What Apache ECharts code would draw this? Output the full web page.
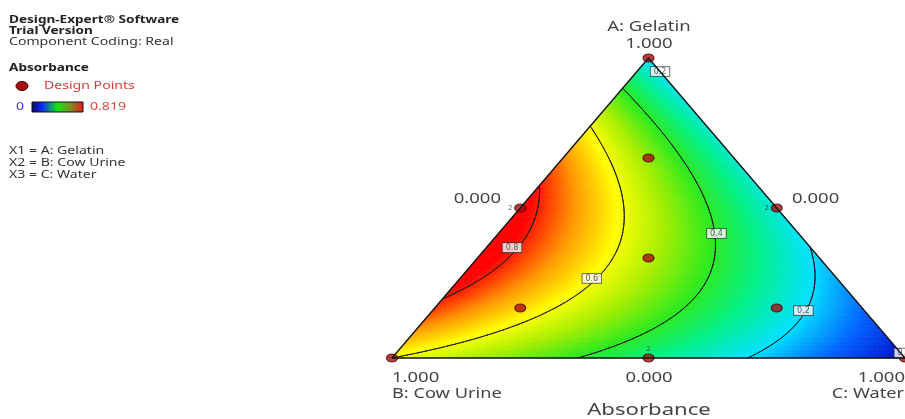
<!DOCTYPE html>
<html>
<head>
<meta charset="utf-8">
<script src="https://cdn.jsdelivr.net/npm/echarts@6/dist/echarts.min.js"></script>
<style>
  html, body { margin: 0; padding: 0; background: #fff; }
  #chart { width: 905px; height: 419px; }
</style>
</head>
<body>
<div id="chart"></div>
<script>
// Fitted Scheffé quadratic mixture model for Absorbance
// components: A = Gelatin, B = Cow Urine, C = Water
const linearCoef = [0.2, 0.6, 0.0];     // A, B, C
const pairCoef = [1.76, 0.54, 0.075];   // AB, AC, BC
const contourLevels = [0.2, 0.4, 0.6, 0.8];
const colorRange = [0, 0.819];

// Design points (mixture proportions) and replicate counts
const designA = [1, 0, 0, 0.5, 0.5, 0, 1 / 3, 2 / 3, 1 / 6, 1 / 6];
const designB = [0, 1, 0, 0.5, 0, 0.5, 1 / 3, 1 / 6, 2 / 3, 1 / 6];
const designC = [0, 0, 1, 0, 0.5, 0.5, 1 / 3, 1 / 6, 1 / 6, 2 / 3];
const designReps = [1, 1, 1, 2, 2, 2, 1, 1, 1, 1];

// Contour label anchors (proportion of A and C on the contour)
const labelText = ['0.8', '0.6', '0.4', '0.2', '0.2', '0'];
const labelA = [0.368, 0.265, 0.415, 0.158, 0.955, 0.0];
const labelC = [0.050, 0.257, 0.425, 0.723, 0.045, 1.0];

// Vertex / edge scale labels
const axisTitles = ['A: Gelatin', 'B: Cow Urine', 'C: Water'];
const scaleHigh = '1.000';
const scaleLow = '0.000';

function absorbance(a, b, c) {
  return linearCoef[0] * a + linearCoef[1] * b + linearCoef[2] * c +
    pairCoef[0] * a * b + pairCoef[1] * a * c + pairCoef[2] * b * c;
}

// ternary (A, B, C) -> plane: B at (0,0), C at (1,0), A at (0.5,1)
function toXY(a, c) { return [c + a / 2, a]; }

function meshTriangles(n) {
  const tris = [];
  const P = (r, k) => { const a = r / n, c = k / n; return [a, Math.max(0, 1 - a - c), c]; };
  for (let r = 0; r < n; r++) {
    for (let k = 0; k < n - r; k++) {
      tris.push([P(r, k), P(r, k + 1), P(r + 1, k)]);
      if (k < n - r - 1) tris.push([P(r, k + 1), P(r + 1, k + 1), P(r + 1, k)]);
    }
  }
  return tris;
}

const clampV = v => Math.min(colorRange[1], Math.max(colorRange[0], v));

// colour field cells
const heatData = meshTriangles(110).map(t => {
  const a = (t[0][0] + t[1][0] + t[2][0]) / 3;
  const b = (t[0][1] + t[1][1] + t[2][1]) / 3;
  const c = (t[0][2] + t[1][2] + t[2][2]) / 3;
  const p = t.map(q => toXY(q[0], q[2]));
  return [p[0][0], p[0][1], p[1][0], p[1][1], p[2][0], p[2][1], clampV(absorbance(a, b, c))];
});

// contour segments by marching triangles
const contourData = [];
meshTriangles(170).forEach(t => {
  const v = t.map(q => absorbance(q[0], q[1], q[2]));
  const xy = t.map(q => toXY(q[0], q[2]));
  contourLevels.forEach(L => {
    const pts = [];
    for (let i = 0; i < 3; i++) {
      const j = (i + 1) % 3;
      const ai = v[i] >= L, aj = v[j] >= L;
      if (ai !== aj) {
        const f = (L - v[i]) / (v[j] - v[i]);
        pts.push([xy[i][0] + f * (xy[j][0] - xy[i][0]), xy[i][1] + f * (xy[j][1] - xy[i][1])]);
      }
    }
    if (pts.length === 2) contourData.push([pts[0][0], pts[0][1], pts[1][0], pts[1][1]]);
  });
});

const designData = designA.map((a, i) => {
  const onBC = a === 0;
  return {
    value: toXY(a, designC[i]),
    label: {
      show: designReps[i] > 1,
      formatter: String(designReps[i]),
      position: onBC ? 'top' : 'left',
      distance: onBC ? 1 : 2
    }
  };
});

const labelData = labelText.map((t, i) => ({ value: toXY(labelA[i], labelC[i]), name: t }));
labelData[5].label = { offset: [-5, -5] };

const FONT = '"Noto Sans", "Open Sans", "DejaVu Sans", sans-serif';
function txt(text, x, y, size, opts) {
  opts = opts || {};
  return {
    type: 'text', x: x, y: y, silent: true, scaleX: opts.sx || 1.3,
    style: {
      text: text, fill: opts.fill || '#3a3a3a',
      font: (opts.bold ? 'bold ' : '') + size + 'px ' + FONT,
      textAlign: opts.align || 'left', textVerticalAlign: 'middle'
    }
  };
}

const chart = echarts.init(document.getElementById('chart'), null, { renderer: 'canvas' });
chart.setOption({
  animation: false,
  backgroundColor: '#ffffff',
  grid: { left: 392, right: -1, top: 58, bottom: 61 },
  xAxis: { type: 'value', min: 0, max: 1, show: false },
  yAxis: { type: 'value', min: 0, max: 1, show: false },
  visualMap: {
    show: false, type: 'continuous', seriesIndex: 0, dimension: 6,
    min: colorRange[0], max: colorRange[1],
    inRange: { color: ['#0008c8', '#0062ff', '#00e2ff', '#00f08c', '#2cea1c', '#a6ee00', '#ffff00', '#ff9400', '#ff0000'] }
  },
  graphic: [
    txt('Design-Expert\u00ae Software', 9, 20, 10.6, { bold: true, fill: '#222', sx: 1.28 }),
    txt('Trial Version', 9, 31, 10.6, { bold: true, fill: '#222', sx: 1.28 }),
    txt('Component Coding: Real', 9, 42, 11, { fill: '#333', sx: 1.28 }),
    txt('Absorbance', 9, 68, 10.6, { bold: true, fill: '#222', sx: 1.28 }),
    { type: 'ellipse', shape: { cx: 22, cy: 86, rx: 6, ry: 4.5 }, style: { fill: '#a50f0f', stroke: '#4a0000', lineWidth: 1 } },
    txt('Design Points', 44, 86, 11, { fill: '#d23c3c', sx: 1.28 }),
    txt('0', 16, 107, 11, { fill: '#3c3cd2', sx: 1.28 }),
    {
      type: 'rect', shape: { x: 32, y: 102, width: 51, height: 10 },
      style: {
        stroke: '#111', lineWidth: 1,
        fill: new echarts.graphic.LinearGradient(0, 0, 1, 0, [
          { offset: 0, color: '#0a0a5a' }, { offset: 0.2, color: '#0a28ff' },
          { offset: 0.5, color: '#14e614' }, { offset: 0.78, color: '#8c8028' },
          { offset: 1, color: '#e61414' }
        ])
      }
    },
    txt('0.819', 90, 107, 11, { fill: '#e04646', sx: 1.28 }),
    txt('X1 = A: Gelatin', 9, 151, 11, { fill: '#333', sx: 1.28 }),
    txt('X2 = B: Cow Urine', 9, 163, 11, { fill: '#333', sx: 1.28 }),
    txt('X3 = C: Water', 9, 175, 11, { fill: '#333', sx: 1.28 }),
    txt(axisTitles[0], 649, 27, 14, { align: 'center', fill: '#444', sx: 1.32 }),
    txt(scaleHigh, 649, 44, 14, { align: 'center', fill: '#444', sx: 1.32 }),
    txt(scaleLow, 501, 199, 14, { align: 'right', fill: '#444', sx: 1.32 }),
    txt(scaleLow, 792, 199, 14, { fill: '#444', sx: 1.32 }),
    txt(scaleHigh, 392, 378, 14, { fill: '#444', sx: 1.32 }),
    txt(axisTitles[1], 392, 394, 14, { fill: '#444', sx: 1.3 }),
    txt(scaleLow, 649, 378, 14, { align: 'center', fill: '#444', sx: 1.32 }),
    txt(scaleHigh, 905, 378, 14, { align: 'right', fill: '#444', sx: 1.32 }),
    txt(axisTitles[2], 904, 394, 14, { align: 'right', fill: '#444', sx: 1.3 }),
    txt('Absorbance', 649, 410, 17, { align: 'center', fill: '#444', sx: 1.3 })
  ],
  series: [
    {
      type: 'custom', data: heatData, progressive: 0, silent: true,
      encode: { x: [0, 2, 4], y: [1, 3, 5] },
      renderItem: function (params, api) {
        const p1 = api.coord([api.value(0), api.value(1)]);
        const p2 = api.coord([api.value(2), api.value(3)]);
        const p3 = api.coord([api.value(4), api.value(5)]);
        const col = api.visual('color');
        return { type: 'polygon', shape: { points: [p1, p2, p3] }, style: { fill: col, stroke: col, lineWidth: 0.7 } };
      }
    },
    {
      type: 'custom', data: contourData, progressive: 0, silent: true,
      encode: { x: [0, 2], y: [1, 3] },
      renderItem: function (params, api) {
        const p1 = api.coord([api.value(0), api.value(1)]);
        const p2 = api.coord([api.value(2), api.value(3)]);
        return {
          type: 'line', shape: { x1: p1[0], y1: p1[1], x2: p2[0], y2: p2[1] },
          style: { stroke: '#1a1a1a', lineWidth: 1, lineCap: 'round' }
        };
      }
    },
    {
      type: 'line', data: [toXY(0, 0), toXY(0, 1), toXY(1, 0), toXY(0, 0)],
      symbol: 'none', clip: false, silent: true,
      lineStyle: { color: '#151515', width: 1.4 }
    },
    {
      type: 'scatter', data: designData, clip: false, symbol: 'circle', symbolSize: [11, 8], silent: true,
      itemStyle: { color: '#a81010', borderColor: '#4a0000', borderWidth: 1 },
      label: { fontSize: 7, color: '#333', fontFamily: FONT }
    },
    {
      type: 'scatter', data: labelData, clip: false, symbolSize: 1, silent: true,
      itemStyle: { color: 'transparent' },
      label: {
        show: true, position: 'inside', formatter: '{b}', fontSize: 8, color: '#333',
        fontFamily: '"DejaVu Sans", sans-serif', backgroundColor: '#ffffff',
        borderColor: '#333', borderWidth: 0.8, padding: [1, 3, 0, 3]
      }
    }
  ]
});
</script>
</body>
</html>
